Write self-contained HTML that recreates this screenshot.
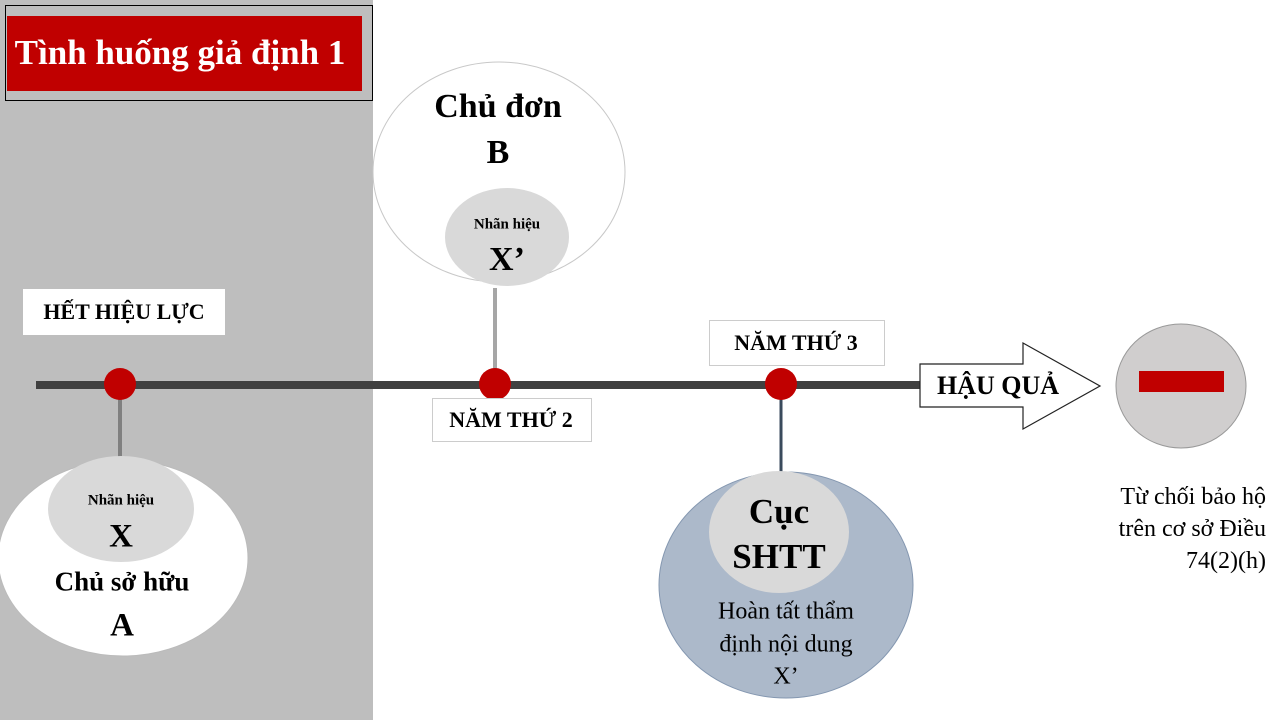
<!DOCTYPE html>
<html><head><meta charset="utf-8"><style>
body{margin:0;width:1280px;height:720px;overflow:hidden;background:#fff;font-family:"Liberation Serif",serif;}
.a{position:absolute;}
.t{position:absolute;white-space:nowrap;font-weight:bold;color:#000;transform:translate(-50%,-50%);}
</style></head><body>
<div class="a" style="left:0;top:0;width:373px;height:720px;background:#bebebe"></div>
<div class="a" style="left:5px;top:5px;width:366px;height:94px;border:1px solid #000"></div>
<div class="a" style="left:7px;top:16px;width:355px;height:75px;background:#c00000"></div>
<div class="t" style="left:180px;top:53px;font-size:35px;color:#fff">Tình huống giả định 1</div>
<svg class="a" style="left:0;top:0" width="1280" height="720">
<line x1="120" y1="384" x2="120" y2="462" stroke="#808080" stroke-width="4"/>
<line x1="495" y1="288" x2="495" y2="384" stroke="#a6a6a6" stroke-width="4"/>
<line x1="781" y1="384" x2="781" y2="472" stroke="#3a4a5c" stroke-width="3"/>
<line x1="36" y1="385" x2="925" y2="385" stroke="#404040" stroke-width="8"/>
<ellipse cx="123" cy="558" rx="125" ry="98" fill="#fff" stroke="#bbb"/>
<ellipse cx="121" cy="509" rx="73" ry="53" fill="#d9d9d9"/>
<ellipse cx="499" cy="172" rx="126" ry="110" fill="#fff" stroke="#c8c8c8"/>
<ellipse cx="507" cy="237" rx="62" ry="49" fill="#d9d9d9"/>
<ellipse cx="786" cy="585" rx="127" ry="113" fill="#acb9ca" stroke="#8497b0"/>
<ellipse cx="779" cy="532" rx="70" ry="61" fill="#d9d9d9"/>
<ellipse cx="120" cy="384" rx="16" ry="16" fill="#c00000"/>
<ellipse cx="495" cy="384" rx="16" ry="16" fill="#c00000"/>
<ellipse cx="781" cy="384" rx="16" ry="16" fill="#c00000"/>
<polygon points="920,364 1023,364 1023,343 1100,386 1023,429 1023,407 920,407" fill="#fff" stroke="#222" stroke-width="1.2"/>
<ellipse cx="1181" cy="386" rx="65" ry="62" fill="#d0cece" stroke="#999"/>
<rect x="1139" y="371" width="85" height="21" fill="#c00000"/>
</svg>
<div class="a" style="left:23px;top:289px;width:202px;height:46px;background:#fff"></div>
<div class="t" style="left:124px;top:312px;font-size:22px">HẾT HIỆU LỰC</div>
<div class="a" style="left:432px;top:398px;width:158px;height:42px;background:#fff;border:1px solid #ccc"></div>
<div class="t" style="left:511px;top:420px;font-size:22px">NĂM THỨ 2</div>
<div class="a" style="left:709px;top:320px;width:174px;height:44px;background:#fff;border:1px solid #ccc"></div>
<div class="t" style="left:796px;top:343px;font-size:22px">NĂM THỨ 3</div>
<div class="t" style="left:998px;top:386px;font-size:26px">HẬU QUẢ</div>
<div class="t" style="left:121px;top:501px;font-size:15px">Nhãn hiệu</div>
<div class="t" style="left:121px;top:537px;font-size:33px">X</div>
<div class="t" style="left:122px;top:582px;font-size:27px">Chủ sở hữu</div>
<div class="t" style="left:122px;top:626px;font-size:33px">A</div>
<div class="t" style="left:498px;top:107px;font-size:34px">Chủ đơn</div>
<div class="t" style="left:498px;top:153px;font-size:34px">B</div>
<div class="t" style="left:507px;top:225px;font-size:15px">Nhãn hiệu</div>
<div class="t" style="left:507px;top:260px;font-size:34px">X’</div>
<div class="t" style="left:779px;top:512px;font-size:35px">Cục</div>
<div class="t" style="left:779px;top:557px;font-size:35px">SHTT</div>
<div class="t" style="left:786px;top:612px;font-size:24px;font-weight:normal">Hoàn tất thẩm</div>
<div class="t" style="left:786px;top:645px;font-size:24px;font-weight:normal">định nội dung</div>
<div class="t" style="left:786px;top:677px;font-size:24px;font-weight:normal">X’</div>
<div class="a" style="right:14px;top:481px;font-size:24px;line-height:32px;text-align:right;white-space:nowrap">Từ chối bảo hộ<br>trên cơ sở Điều<br>74(2)(h)</div>
</body></html>
